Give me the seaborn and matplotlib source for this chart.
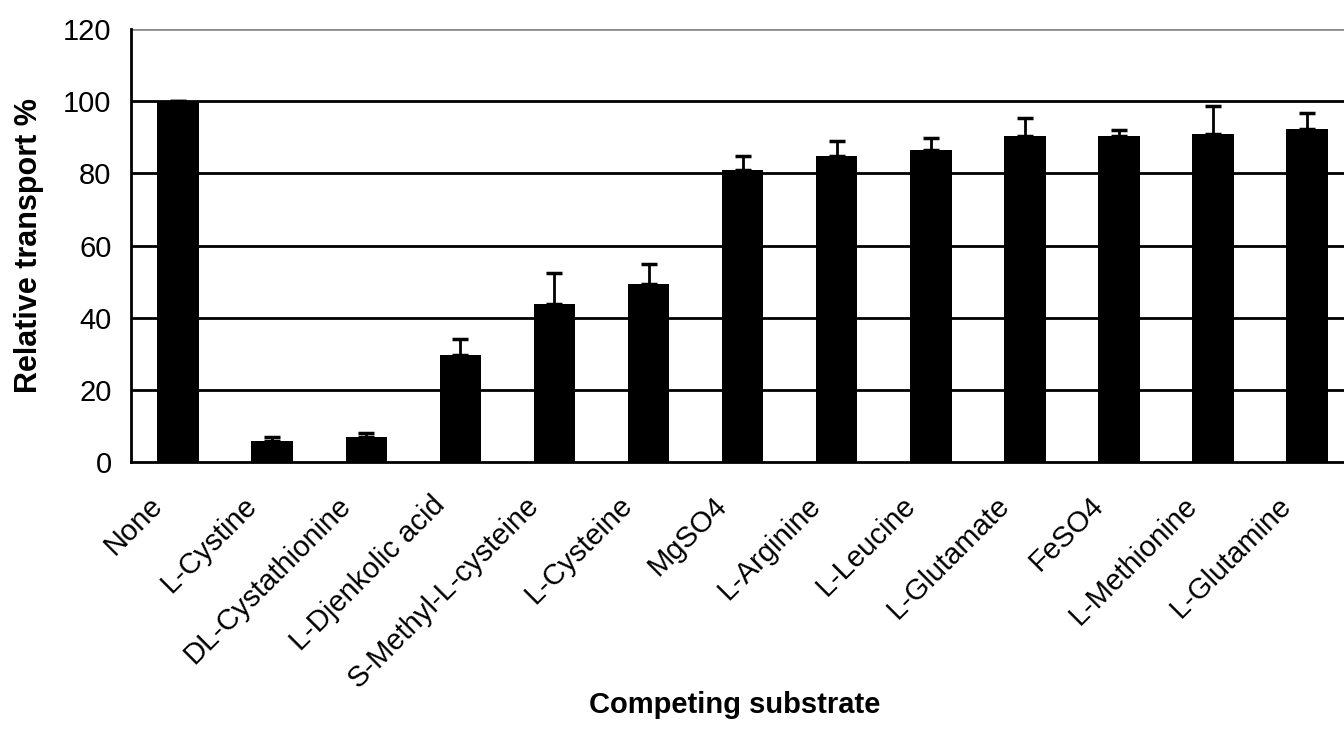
import matplotlib
matplotlib.use("Agg")
import matplotlib.pyplot as plt
import matplotlib.transforms as mtransforms
import seaborn as sns
import numpy as np
import pandas as pd

# data
substrates = ["None", "L-Cystine", "DL-Cystathionine", "L-Djenkolic acid",
              "S-Methyl-L-cysteine", "L-Cysteine", "MgSO4", "L-Arginine",
              "L-Leucine", "L-Glutamate", "FeSO4", "L-Methionine", "L-Glutamine"]
transport = [100, 5.8, 7.0, 29.7, 43.9, 49.2, 80.8, 84.7, 86.4, 90.3, 90.4, 90.9, 92.2]
err_upper = [0, 1.2, 1.1, 4.5, 8.5, 5.8, 4.0, 4.2, 3.3, 5.0, 1.5, 7.7, 4.5]

df = pd.DataFrame({"substrate": substrates, "transport": transport})

sns.set_style("white")
plt.rcParams["font.family"] = ["Liberation Sans", "DejaVu Sans"]
plt.rcParams["text.color"] = "black"
plt.rcParams["axes.labelcolor"] = "black"
plt.rcParams["xtick.color"] = "black"
plt.rcParams["ytick.color"] = "black"

fig = plt.figure(figsize=(13.44, 7.51), dpi=100)
ax = fig.add_axes([0.0975, 0.3848, 0.9101, 0.5766])

sns.barplot(data=df, x="substrate", y="transport", color="black",
            width=0.44, saturation=1, ax=ax, errorbar=None,
            edgecolor="black", linewidth=0, zorder=3)
ax.errorbar(np.arange(len(substrates)), transport,
            yerr=[np.zeros(len(err_upper)), err_upper],
            fmt="none", ecolor="black", elinewidth=2, capsize=5.5, capthick=2.5,
            zorder=2)

# gridlines
for y in range(20, 101, 20):
    ax.axhline(y, color="black", lw=2, zorder=1)
ax.axhline(120, color="#8c8c8c", lw=2, zorder=1)

ax.set_ylim(0, 120)
ax.set_xlim(-0.5, len(substrates) - 0.5)
ax.set_yticks(range(0, 121, 20))
ax.set_xticks(np.arange(len(substrates)))
ax.set_xticklabels(substrates, rotation=45, ha="right", va="center",
                   rotation_mode="anchor", fontsize=21)
ax.tick_params(axis="x", length=0, pad=28)
shift = mtransforms.ScaledTranslation(-0.20, 0, fig.dpi_scale_trans)
for lab in ax.get_xticklabels():
    lab.set_transform(lab.get_transform() + shift)
ax.set_xticks(np.arange(-0.5, len(substrates), 1), minor=True)
ax.tick_params(axis="x", which="minor", length=10, width=2, direction="out",
               color="black")
ax.tick_params(axis="y", length=8, width=2, direction="out", color="black",
               labelsize=21, pad=6)

for side in ["top", "right"]:
    ax.spines[side].set_visible(False)
for side in ["left", "bottom"]:
    ax.spines[side].set_color("black")
    ax.spines[side].set_linewidth(2)

ax.set_ylabel("Relative transport %", fontsize=22, fontweight="bold", labelpad=14)
ax.set_xlabel("")
fig.text(0.547, 0.061, "Competing substrate", fontsize=21, fontweight="bold",
         ha="center", va="center")

fig.savefig("out.png", dpi=100)
